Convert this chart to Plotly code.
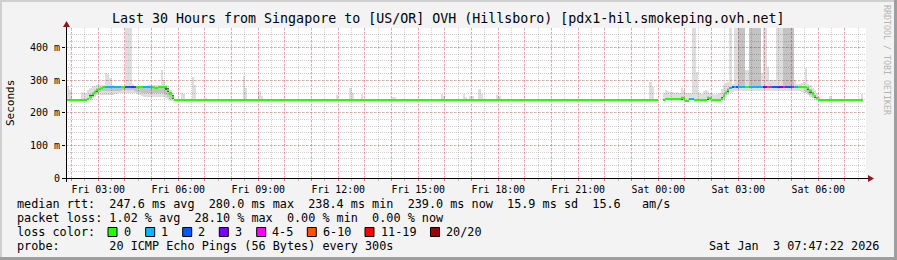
import pandas as pd
import plotly.graph_objects as go

TITLE = "Last 30 Hours from Singapore to [US/OR] OVH (Hillsboro) [pdx1-hil.smokeping.ovh.net]"
RANGE_START = "2026-01-02 01:47:22"
RANGE_END = "2026-01-03 07:47:22"
FIRST_SAMPLE = "2026-01-02 01:50:00"
STEP_MIN = 5
Y_TOP = 461.5

# median rtt (ms) per 5-minute step, one row = one hour starting at 01:50 Fri
median_ms = [
    240, 240, 240, 240, 240, 240, 240, 240, 240, 243, 250, 257,
    264, 270, 275, 278, 279, 280, 280, 280, 280, 279, 280, 280,
    280, 280, 280, 280, 280, 280, 280, 279, 279, 280, 280, 279,
    279, 279, 279, 278, 278, 279, 279, 279, 279, 272, 260, 248,
    241, 240, 239, 239, 240, 239, 239, 240, 239, 239, 239, 239,
    239, 239, 240, 239, 239, 239, 239, 239, 239, 239, 239, 239,
    239, 239, 239, 239, 239, 239, 239, 240, 240, 239, 239, 239,
    239, 239, 240, 240, 239, 239, 239, 239, 239, 239, 239, 239,
    239, 239, 239, 239, 239, 239, 239, 239, 239, 239, 239, 239,
    239, 239, 239, 239, 239, 239, 239, 239, 239, 239, 239, 239,
    239, 240, 239, 239, 239, 239, 239, 240, 239, 239, 239, 239,
    239, 239, 239, 239, 239, 239, 239, 239, 239, 239, 239, 239,
    239, 239, 240, 239, 239, 239, 239, 239, 239, 239, 239, 239,
    239, 239, 239, 239, 239, 239, 239, 239, 239, 239, 239, 239,
    239, 240, 239, 239, 239, 239, 239, 239, 239, 239, 239, 239,
    239, 239, 239, 239, 239, 239, 239, 239, 239, 239, 239, 239,
    239, 239, 239, 239, 239, 239, 239, 239, 239, 239, 239, 239,
    239, 239, 239, 239, 239, 239, 239, 239, 239, 239, 239, 239,
    239, 239, 239, 239, 239, 239, 239, 239, 239, 239, 239, 239,
    239, 239, 239, 239, 239, 239, 239, 239, 239, 239, 239, 239,
    239, 239, 239, 239, 239, 239, 239, 239, 239, 239, 239, 239,
    239, 239, 239, 239, 239, 239, 239, 239, 239, 239, 239, 239,
    239, 239, None, None, 240, 242, 242, 242, 242, 242, 242, 242,
    246, 246, 238, 238, 243, 243, 239, 239, 239, 239, 239, 239,
    245, 245, 239, 239, 239, 239, 244, 252, 262, 270, 276, 279,
    280, 280, 280, 280, 280, 280, 280, 280, 280, 280, 280, 280,
    280, 280, 280, 280, 280, 280, 280, 280, 280, 280, 280, 280,
    280, 280, 280, 280, 280, 280, 280, 280, 280, 276, 268, 260,
    252, 245, 241, 239, 239, 239, 239, 239, 239, 239, 239, 239,
    239, 239, 239, 239, 239, 239, 239, 239, 239, 239, None, None,
]

# lost pings (of 20) per step, same layout (one row = one hour)
loss_pings = [
    0, 0, 0, 0, 0, 0, 0, 0, 0, 0, 0, 0,
    0, 0, 0, 0, 0, 1, 1, 1, 1, 1, 1, 1,
    0, 0, 2, 2, 2, 3, 2, 0, 0, 0, 1, 1,
    1, 1, 0, 0, 0, 0, 0, 0, 0, 0, 0, 0,
    0, 0, 0, 0, 0, 0, 0, 0, 0, 0, 0, 0,
    0, 0, 0, 0, 0, 0, 0, 0, 0, 0, 0, 0,
    0, 0, 0, 0, 0, 0, 0, 0, 0, 0, 0, 0,
    0, 0, 0, 0, 0, 0, 0, 0, 0, 0, 0, 0,
    0, 0, 0, 0, 0, 0, 0, 0, 0, 0, 0, 0,
    0, 0, 0, 0, 0, 0, 0, 0, 0, 0, 0, 0,
    0, 0, 0, 0, 0, 0, 0, 0, 0, 0, 0, 0,
    0, 0, 0, 0, 0, 0, 0, 0, 0, 0, 0, 0,
    0, 0, 0, 0, 0, 0, 0, 0, 0, 0, 0, 0,
    0, 0, 0, 0, 0, 0, 0, 0, 0, 0, 0, 0,
    0, 0, 0, 0, 0, 0, 0, 0, 0, 0, 0, 0,
    0, 0, 0, 0, 0, 0, 0, 0, 0, 0, 0, 0,
    0, 0, 0, 0, 0, 0, 0, 0, 0, 0, 0, 0,
    0, 0, 0, 0, 0, 0, 0, 0, 0, 0, 0, 0,
    0, 0, 0, 0, 0, 0, 0, 0, 0, 0, 0, 0,
    0, 0, 0, 0, 0, 0, 0, 0, 0, 0, 0, 0,
    0, 0, 0, 0, 0, 0, 0, 0, 0, 0, 0, 0,
    0, 0, 0, 0, 0, 0, 0, 0, 0, 0, 0, 0,
    0, 0, 0, 0, 0, 0, 0, 0, 0, 0, 0, 0,
    0, 0, 0, 0, 1, 1, 0, 0, 0, 0, 0, 0,
    0, 0, 0, 0, 0, 0, 0, 0, 0, 0, 1, 2,
    1, 2, 1, 1, 1, 0, 0, 1, 1, 1, 1, 1,
    1, 3, 3, 8, 4, 2, 2, 2, 3, 3, 5, 2,
    2, 2, 4, 1, 1, 0, 0, 0, 0, 0, 0, 0,
    0, 0, 0, 0, 0, 0, 0, 0, 0, 0, 0, 0,
    0, 0, 0, 0, 0, 0, 0, 0, 0, 0, 0, 0,
]

# smoke: (step index, lowest ping ms, highest ping ms) - light grey
smoke_outer = [
    (0, 240, 282), (1, 240, 270), (6, 240, 265), (7, 240, 262),
    (8, 238, 262), (9, 238, 270), (10, 240, 276), (11, 245, 282), (12, 250, 284),
    (13, 254, 285), (14, 256, 285), (15, 256, 285), (16, 255, 285), (17, 254, 324),
    (18, 254, 320), (19, 255, 307), (20, 256, 285), (21, 257, 284), (22, 258, 284),
    (23, 260, 284), (24, 260, 284), (25, 262, 284), (26, 262, 470), (27, 262, 470),
    (28, 262, 470), (29, 262, 290), (30, 260, 284), (31, 258, 284), (32, 255, 284),
    (33, 252, 284), (34, 250, 284), (35, 250, 284), (36, 250, 285), (37, 250, 285),
    (38, 250, 285), (39, 250, 285), (40, 250, 286), (41, 250, 286), (42, 250, 332),
    (43, 248, 301), (44, 245, 285), (45, 242, 282), (46, 238, 272), (47, 238, 260),
    (51, 240, 260), (52, 240, 258), (56, 240, 312), (57, 240, 286), (62, 240, 245),
    (79, 240, 315), (80, 240, 277), (86, 240, 269), (87, 240, 252),
    (121, 240, 255), (127, 240, 277), (128, 240, 262), (132, 240, 258),
    (146, 240, 250), (147, 240, 248), (168, 240, 258), (169, 240, 252), (172, 240, 244),
    (178, 240, 258), (179, 240, 250), (181, 240, 252), (182, 240, 252), (185, 240, 274),
    (186, 240, 258), (193, 240, 255), (194, 240, 252), (262, 240, 296), (263, 240, 280),
    (268, 238, 262), (269, 238, 272), (270, 238, 268), (271, 238, 266), (272, 238, 265),
    (273, 238, 262), (274, 238, 265), (275, 238, 262), (276, 238, 277), (277, 238, 270),
    (278, 236, 262), (279, 236, 262), (280, 238, 262), (281, 238, 470), (282, 238, 470),
    (283, 238, 326), (284, 237, 262), (285, 237, 258), (286, 237, 268), (287, 237, 270),
    (288, 237, 268), (289, 237, 262), (290, 237, 258), (291, 237, 255), (292, 237, 258),
    (293, 238, 262), (294, 238, 275), (295, 240, 285), (296, 248, 292), (297, 255, 295),
    (298, 262, 470), (299, 265, 290), (300, 268, 470), (301, 268, 470), (302, 268, 470),
    (303, 268, 470), (304, 268, 470), (305, 268, 332), (306, 268, 332), (307, 268, 470),
    (308, 268, 470), (309, 268, 470), (310, 268, 470), (311, 268, 470), (312, 268, 323),
    (313, 268, 470), (314, 268, 470), (315, 268, 340), (316, 268, 300), (317, 268, 300),
    (318, 268, 300), (319, 268, 470), (320, 268, 470), (321, 268, 470), (322, 268, 470),
    (323, 268, 470), (324, 268, 470), (325, 268, 470), (326, 268, 470), (327, 268, 301),
    (328, 268, 290), (329, 268, 290), (330, 266, 292), (331, 262, 295), (332, 260, 338),
    (333, 255, 290), (334, 250, 285), (335, 245, 278), (336, 240, 270), (337, 238, 260),
    (338, 238, 250), (343, 240, 252), (357, 240, 258),
]

# denser smoke (middle pings) - medium grey
smoke_inner = [
    (10, 244, 258), (11, 250, 266), (12, 256, 272), (13, 262, 278), (14, 266, 281),
    (15, 268, 281), (16, 268, 281), (17, 268, 281), (18, 268, 281), (19, 268, 281),
    (20, 268, 281), (21, 268, 281), (22, 268, 281), (23, 268, 281), (24, 270, 281),
    (25, 270, 281), (26, 270, 281), (27, 270, 281), (28, 270, 281), (29, 270, 281),
    (30, 268, 281), (31, 266, 281), (32, 264, 281), (33, 262, 281), (34, 262, 281),
    (35, 262, 281), (36, 262, 281), (37, 262, 281), (38, 262, 281), (39, 262, 281),
    (40, 262, 281), (41, 262, 281), (42, 262, 281), (43, 260, 280), (44, 256, 278),
    (45, 250, 274), (46, 244, 266),
    (276, 240, 252), (277, 240, 250), (288, 240, 252), (289, 240, 250),
    (295, 246, 260), (296, 254, 270), (297, 262, 278),
    (302, 282, 470), (303, 282, 470), (304, 282, 470), (307, 282, 470), (308, 282, 470),
    (309, 282, 470), (310, 282, 470), (311, 282, 470), (322, 282, 470), (323, 282, 470),
    (324, 282, 470), (325, 282, 470), (326, 282, 470),
    (332, 266, 282), (333, 260, 280), (334, 254, 274), (335, 248, 266),
]

# darkest smoke right around the median on transitions
smoke_core = [
    (9, 239, 247), (10, 246, 254), (11, 253, 261), (12, 260, 268), (13, 266, 274),
    (44, 270, 280), (45, 264, 276), (46, 254, 266), (47, 244, 254),
    (276, 241, 249), (288, 240, 248), (294, 240, 248), (295, 248, 256), (296, 258, 266),
    (297, 266, 274), (333, 270, 280), (334, 262, 272), (335, 254, 264), (336, 246, 256),
]

LOSS_BUCKETS = [
    (0, 0, "#26ff00", "0"), (1, 1, "#00b8ff", "1"), (2, 2, "#0059ff", "2"),
    (3, 3, "#7e00ff", "3"), (4, 5, "#ff00ff", "4-5"), (6, 10, "#ff5500", "6-10"),
    (11, 19, "#ff0000", "11-19"), (20, 20, "#a10000", "20/20"),
]

LEGEND_ROWS = [
    "median rtt:  247.6 ms avg  280.0 ms max  238.4 ms min  239.0 ms now  15.9 ms sd  15.6   am/s",
    "packet loss: 1.02 % avg  28.10 % max  0.00 % min  0.00 % now",
    "loss color:",
    "probe:       20 ICMP Echo Pings (56 Bytes) every 300s",
]
STAMP = "Sat Jan  3 07:47:22 2026"

# ---------------------------------------------------------------
N = len(median_ms)
ts = pd.date_range(FIRST_SAMPLE, periods=N, freq=f"{STEP_MIN}min")
STEP_MS = STEP_MIN * 60 * 1000
FONT = "DejaVu Sans Mono"

W, H = 897, 260
L, R, T, B = 66, 31, 28, 82
PW, PH = W - L - R, H - T - B


def px(x):
    return (x - L) / PW


def py(y):
    return (H - B - y) / PH


fig = go.Figure()


def add_band(rows, color):
    fig.add_trace(go.Bar(
        x=[ts[i] for i, lo, hi in rows], base=[lo for i, lo, hi in rows],
        y=[hi - lo for i, lo, hi in rows], width=STEP_MS, offset=0,
        marker=dict(color=color, line=dict(width=0)), hoverinfo="skip"))


# semi-transparent so that the grid shows through the smoke, as in rrdtool
add_band(smoke_outer, "rgba(0,0,0,0.13)")
add_band(smoke_inner, "rgba(0,0,0,0.12)")
add_band(smoke_core, "rgba(0,0,0,0.55)")

LINE_MS = 6.2
for lo, hi, color, name in LOSS_BUCKETS:
    idx = [i for i in range(N) if median_ms[i] is not None and lo <= loss_pings[i] <= hi]
    if not idx:
        continue
    fig.add_trace(go.Bar(
        x=[ts[i] for i in idx], base=[median_ms[i] - LINE_MS / 2 for i in idx],
        y=[LINE_MS] * len(idx), width=STEP_MS, offset=0,
        marker=dict(color=color, line=dict(width=0)), name=name, hoverinfo="skip"))

hours = pd.date_range("2026-01-02 02:00", "2026-01-03 07:00", freq="h")
hour_text = [t.strftime("%a %H:%M") if t.hour % 3 == 0 else "" for t in hours]

RED_GRID = "rgba(255,110,110,0.55)"
GREY_GRID = "rgba(150,150,150,0.45)"

fig.update_layout(
    width=W, height=H, margin=dict(l=L, r=R, t=T, b=B),
    paper_bgcolor="#f3f3f3", plot_bgcolor="#ffffff",
    barmode="overlay", bargap=0, showlegend=False,
    font=dict(family=FONT, size=10, color="#000000"),
    xaxis=dict(
        type="date", range=[RANGE_START, RANGE_END],
        tickmode="array", tickvals=hours, ticktext=hour_text,
        showgrid=True, gridcolor=RED_GRID, griddash="2px,2px", gridwidth=1,
        ticks="outside", ticklen=2, tickcolor="rgba(255,80,80,0.8)",
        tickfont=dict(size=9.9), showline=False, zeroline=False,
        minor=dict(tickmode="linear", tick0="2026-01-02 00:00", dtick=30 * 60 * 1000,
                   showgrid=True, gridcolor=GREY_GRID, griddash="1px,1px",
                   ticks="outside", ticklen=2, tickcolor="rgba(150,150,150,0.6)"),
        fixedrange=True,
    ),
    yaxis=dict(
        range=[0, Y_TOP], tickmode="array", tickvals=[0, 100, 200, 300, 400],
        ticktext=["0", "100 m", "200 m", "300 m", "400 m"],
        showgrid=True, gridcolor=RED_GRID, griddash="2px,2px", gridwidth=1,
        ticks="outside", ticklen=3, tickcolor="#000000", tickfont=dict(size=10),
        showline=False, zeroline=False,
        minor=dict(tickmode="linear", tick0=0, dtick=20, showgrid=True,
                   gridcolor=GREY_GRID, griddash="1px,1px"),
        fixedrange=True,
    ),
)

shapes = []
# frame of the image
shapes.append(dict(type="rect", xref="paper", yref="paper", x0=px(0), x1=px(W), y0=py(2), y1=py(0),
                   fillcolor="#cfcfcf", line=dict(width=0), layer="above"))
shapes.append(dict(type="rect", xref="paper", yref="paper", x0=px(0), x1=px(2), y0=py(H), y1=py(0),
                   fillcolor="#cfcfcf", line=dict(width=0), layer="above"))
shapes.append(dict(type="rect", xref="paper", yref="paper", x0=px(W - 3), x1=px(W), y0=py(H), y1=py(0),
                   fillcolor="#9e9e9e", line=dict(width=0), layer="above"))
shapes.append(dict(type="rect", xref="paper", yref="paper", x0=px(0), x1=px(W), y0=py(H), y1=py(H - 3),
                   fillcolor="#9e9e9e", line=dict(width=0), layer="above"))
# axes with arrows
shapes.append(dict(type="line", xref="paper", yref="paper", x0=px(62), x1=px(869), y0=py(178.5), y1=py(178.5),
                   line=dict(color="#000000", width=1), layer="above"))
shapes.append(dict(type="line", xref="paper", yref="paper", x0=px(66.5), x1=px(66.5), y0=py(182), y1=py(25),
                   line=dict(color="#000000", width=1), layer="above"))
shapes.append(dict(type="path", xref="paper", yref="paper",
                   path=f"M {px(868)} {py(175)} L {px(874)} {py(178.5)} L {px(868)} {py(182)} Z",
                   fillcolor="#8b1a1a", line=dict(width=0), layer="above"))
shapes.append(dict(type="path", xref="paper", yref="paper",
                   path=f"M {px(63)} {py(27)} L {px(66.5)} {py(21)} L {px(70)} {py(27)} Z",
                   fillcolor="#8b1a1a", line=dict(width=0), layer="above"))

annotations = []


def text(x, y, s, size, anchor="left", color="#000000", angle=0):
    annotations.append(dict(
        xref="paper", yref="paper", x=px(x), y=py(y), text=s.replace(" ", "\u00a0"),
        showarrow=False, xanchor=anchor, yanchor="middle", textangle=angle,
        font=dict(family=FONT, size=size, color=color), borderpad=0))


text(448, 19, TITLE, 13.3, anchor="center")
text(10, 103, "Seconds", 11, anchor="center", angle=-90)
text(887, 60, "RRDTOOL / TOBI OETIKER", 8.3, anchor="center", color="#b4b4b4", angle=90)

row_y = [204, 218, 232, 246]
for s, y in zip(LEGEND_ROWS, row_y):
    text(16, y, s, 11.8)
text(880, 246, STAMP, 11.8, anchor="right")

box_x = [108, 145.7, 182.7, 219.3, 256.7, 307.3, 365, 430.5]
for bx, (lo, hi, color, name) in zip(box_x, LOSS_BUCKETS):
    shapes.append(dict(type="rect", xref="paper", yref="paper", x0=px(bx), x1=px(bx + 9),
                       y0=py(236.5), y1=py(227.5), fillcolor=color,
                       line=dict(color="#000000", width=1), layer="above"))
    text(bx + 14.5, 232, name, 11.8)

fig.update_layout(shapes=shapes, annotations=annotations)
fig.write_html("out.html")
